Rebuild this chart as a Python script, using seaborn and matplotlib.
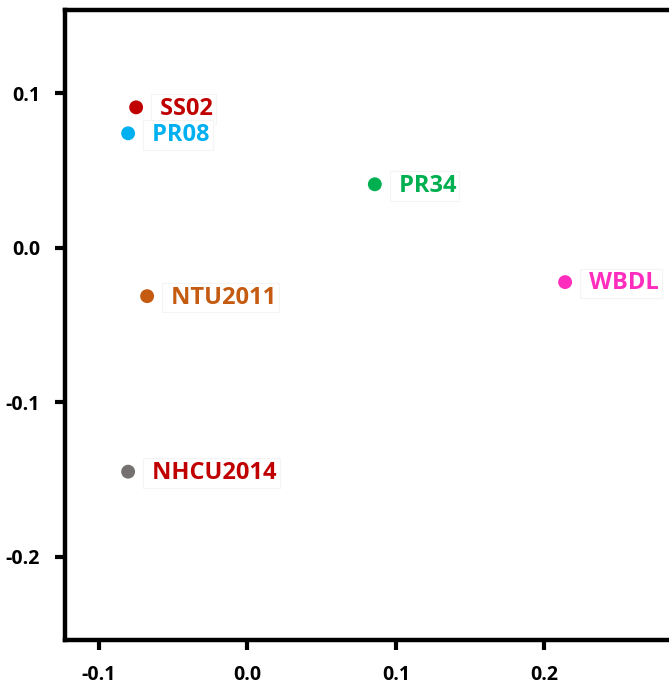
import numpy as np
import pandas as pd
import seaborn as sns
import matplotlib.pyplot as plt

# sample coordinates
samples = ['SS02', 'PR08', 'PR34', 'WBDL', 'NTU2011', 'NHCU2014']
x_vals = [-0.075, -0.0804, 0.0858, 0.214, -0.0676, -0.0804]
y_vals = [0.0908, 0.074, 0.041, -0.0223, -0.0314, -0.145]
dot_colors = ['#C00000', '#00B0F0', '#00B050', '#FF2DBE', '#C55A11', '#767171']
text_colors = ['#C00000', '#00B0F0', '#00B050', '#FF2DBE', '#C55A11', '#C00000']

df = pd.DataFrame({'sample': samples, 'x': x_vals, 'y': y_vals})

sns.set_style('white')
plt.rcParams['font.family'] = ['Open Sans', 'DejaVu Sans']
plt.rcParams['font.weight'] = 'bold'

fig = plt.figure(figsize=(6.69, 6.92), dpi=100)
ax = fig.add_axes([0.097, 0.075, 0.903, 0.911])

sns.scatterplot(data=df, x='x', y='y', hue='sample', palette=dict(zip(samples, dot_colors)),
                s=100, edgecolor='none', legend=False, ax=ax)

# labels sit in faint white boxes to the right of each dot
for name, xv, yv, c in zip(samples, x_vals, y_vals, text_colors):
    ax.annotate(' ' + name, (xv, yv), xytext=(13, -1), textcoords='offset points',
                ha='left', va='center', fontsize=17, fontweight='bold', color=c,
                bbox=dict(boxstyle='square,pad=0.12', fc='white', ec='#f4f4f4', lw=0.8))

ax.set_xlim(-0.123, 0.284)
ax.set_ylim(-0.254, 0.154)
ax.set_xticks([-0.1, 0.0, 0.1, 0.2])
ax.set_yticks([-0.2, -0.1, 0.0, 0.1])
ax.set_xticklabels(['-0.1', '0.0', '0.1', '0.2'])
ax.set_yticklabels(['-0.2', '-0.1', '0.0', '0.1'])
ax.set_xlabel('')
ax.set_ylabel('')
ax.tick_params(bottom=True, left=True, direction='out', length=7, width=3,
               labelsize=14, pad=11, color='black', labelcolor='black')
for lab in ax.get_xticklabels() + ax.get_yticklabels():
    lab.set_fontweight('bold')

for side in ['left', 'bottom', 'top']:
    ax.spines[side].set_linewidth(3.2)
    ax.spines[side].set_color('black')
ax.spines['right'].set_visible(False)

plt.savefig('out.png', dpi=100)
